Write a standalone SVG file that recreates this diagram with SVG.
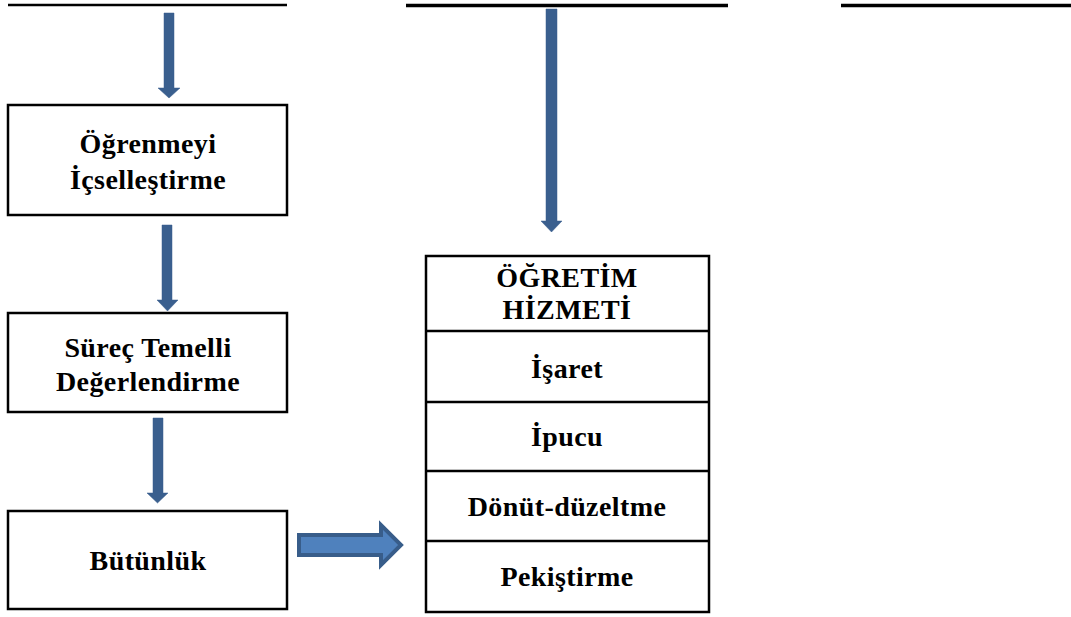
<svg xmlns="http://www.w3.org/2000/svg" width="1071" height="617" viewBox="0 0 1071 617">
<style>
.box{fill:#fff;stroke:#000;stroke-width:2.5}
.t{font-family:"Liberation Serif","Times New Roman",serif;font-weight:bold;font-size:28px;letter-spacing:0.4px;fill:#000;text-anchor:middle}
.dn{fill:#3A5F8E;stroke:#3A5F8E;stroke-width:0.5}
.rt{fill:#4F81BD;stroke:#385D8A;stroke-width:4;stroke-linejoin:miter}
.rule{stroke:#000}
</style>
<rect width="1071" height="617" fill="#fff"/>
<g id="rules">
<line class="rule" x1="8" y1="5" x2="287" y2="5" stroke-width="2.5"/>
<line class="rule" x1="406" y1="5.5" x2="728" y2="5.5" stroke-width="3.5"/>
<line class="rule" x1="841" y1="5.5" x2="1071" y2="5.5" stroke-width="3.5"/>
</g>
<g id="node-ogrenmeyi">
<rect class="box" x="8" y="105" width="279" height="110"/>
<text class="t" x="148" y="153">Öğrenmeyi</text>
<text class="t" x="148" y="189">İçselleştirme</text>
</g>
<g id="node-surec">
<rect class="box" x="8" y="313" width="279" height="99"/>
<text class="t" x="148" y="357">Süreç Temelli</text>
<text class="t" x="148" y="391">Değerlendirme</text>
</g>
<g id="node-butunluk">
<rect class="box" x="8" y="511" width="279" height="98"/>
<text class="t" x="148" y="570">Bütünlük</text>
</g>
<g id="node-ogretim">
<rect class="box" x="426" y="256" width="283" height="356"/>
<line x1="426" y1="331" x2="709" y2="331" stroke="#000" stroke-width="2.5"/>
<line x1="426" y1="402" x2="709" y2="402" stroke="#000" stroke-width="2.5"/>
<line x1="426" y1="471" x2="709" y2="471" stroke="#000" stroke-width="2.5"/>
<line x1="426" y1="541" x2="709" y2="541" stroke="#000" stroke-width="2.5"/>
<text class="t" x="567" y="287">ÖĞRETİM</text>
<text class="t" x="567" y="319">HİZMETİ</text>
<text class="t" x="567" y="378">İşaret</text>
<text class="t" x="567" y="446">İpucu</text>
<text class="t" x="567" y="516">Dönüt-düzeltme</text>
<text class="t" x="567" y="586">Pekiştirme</text>
</g>
<g id="connectors">
<polygon class="dn" points="164,13 174,13 174,88 180,88 169,98 158,88 164,88"/>
<polygon class="dn" points="162,225 172,225 172,300 178,300 167.5,311 157,300 162,300"/>
<polygon class="dn" points="153,418 163,418 163,493 168,493 157.5,503 147,493 153,493"/>
<polygon class="dn" points="546,9 557,9 557,221 562,221 551.5,232 541,221 546,221"/>
<polygon class="rt" points="299,535 381,535 381,525 401,545 381,565 381,555 299,555"/>
</g>
</svg>
